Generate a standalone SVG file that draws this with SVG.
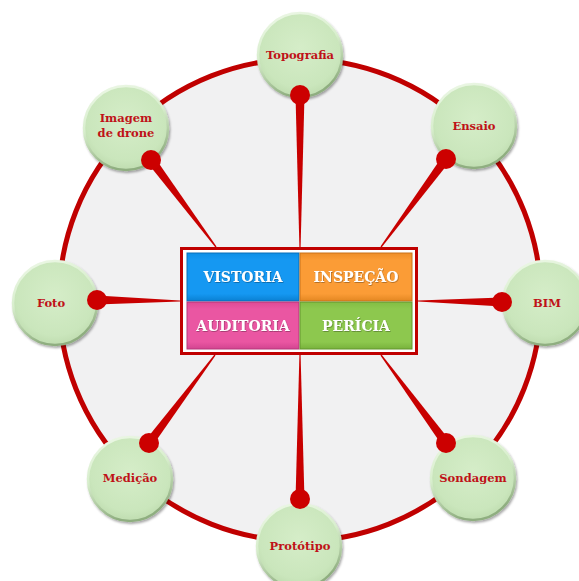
<svg xmlns="http://www.w3.org/2000/svg" width="579" height="581" viewBox="0 0 579 581">
  <defs>
    <radialGradient id="nodeGrad" cx="50%" cy="42%" r="55%">
      <stop offset="0%" stop-color="#d5edc8"/>
      <stop offset="85%" stop-color="#cae6bc"/>
      <stop offset="100%" stop-color="#c2dfb3"/>
    </radialGradient>
    <linearGradient id="rimGrad" x1="0" y1="0" x2="0.3" y2="1">
      <stop offset="0" stop-color="#eef8e8"/>
      <stop offset="0.5" stop-color="#d8eecd"/>
      <stop offset="1" stop-color="#8fae80"/>
    </linearGradient>
    <filter id="shadow" x="-20%" y="-20%" width="150%" height="150%">
      <feDropShadow dx="1.2" dy="1.8" stdDeviation="1.3" flood-color="#000" flood-opacity="0.35"/>
    </filter>
    <filter id="txtShadow" x="-10%" y="-30%" width="130%" height="170%">
      <feDropShadow dx="0.6" dy="0.8" stdDeviation="0.5" flood-color="#000" flood-opacity="0.35"/>
    </filter>
    <linearGradient id="gBlue" x1="0" y1="0" x2="0" y2="1">
      <stop offset="0" stop-color="#0b8fe8"/><stop offset="0.15" stop-color="#1598f2"/><stop offset="0.85" stop-color="#1598f2"/><stop offset="1" stop-color="#0a80d2"/>
    </linearGradient>
    <linearGradient id="gOrange" x1="0" y1="0" x2="0" y2="1">
      <stop offset="0" stop-color="#ef8e28"/><stop offset="0.15" stop-color="#fb9c36"/><stop offset="0.85" stop-color="#fb9c36"/><stop offset="1" stop-color="#e38722"/>
    </linearGradient>
    <linearGradient id="gPink" x1="0" y1="0" x2="0" y2="1">
      <stop offset="0" stop-color="#de4a95"/><stop offset="0.15" stop-color="#ea56a2"/><stop offset="0.85" stop-color="#ea56a2"/><stop offset="1" stop-color="#d24490"/>
    </linearGradient>
    <linearGradient id="gGreen" x1="0" y1="0" x2="0" y2="1">
      <stop offset="0" stop-color="#82bd44"/><stop offset="0.15" stop-color="#8dc84e"/><stop offset="0.85" stop-color="#8dc84e"/><stop offset="1" stop-color="#78b23c"/>
    </linearGradient>
  </defs>
  <style>
    .node circle.body { fill: url(#nodeGrad); stroke: url(#rimGrad); stroke-width: 2.5; filter: url(#shadow); }
    .lbl { font-family: "DejaVu Serif", "Liberation Serif", serif; font-weight: bold; font-size: 11.5px; fill: #bf1218; text-anchor: middle; }
    .dot { fill: #cc0000; }
    .spoke { fill: #c80000; }
    .cell { stroke-width: 1; }
    .ctext { font-family: "DejaVu Serif", "Liberation Serif", serif; font-weight: bold; font-size: 14px; fill: #ffffff; text-anchor: middle; filter: url(#txtShadow); }
  </style>

  <rect width="579" height="581" fill="#ffffff"/>

  <g id="ring">
    <circle cx="300" cy="300" r="241" fill="#f1f1f2" stroke="#c00000" stroke-width="5"/>
  </g>

  <g id="connectors">
    <polygon class="spoke" points="295.5,95 304.5,95 300.6,247 299.4,247"/>
    <polygon class="spoke" points="442.4,156.3 449.6,161.7 381.5,247.4 380.5,246.6"/>
    <polygon class="spoke" points="502,297.5 502,306.5 418,301.6 418,300.4"/>
    <polygon class="spoke" points="449.6,440.3 442.4,445.7 380.5,355.4 381.5,354.6"/>
    <polygon class="spoke" points="295.5,500 304.5,500 300.6,355 299.4,355"/>
    <polygon class="spoke" points="152.6,445.7 145.4,440.3 214.5,354.6 215.5,355.4"/>
    <polygon class="spoke" points="97,295.5 97,304.5 180,301.6 180,300.4"/>
    <polygon class="spoke" points="147.4,162.7 154.6,157.3 216.5,246.6 215.5,247.4"/>
  </g>

  <g id="center-box">
    <rect x="181.5" y="248.5" width="235" height="105" fill="#ffffff" stroke="#c00000" stroke-width="3"/>
    <g id="vistoria">
      <rect class="cell" x="187" y="253" width="112" height="48" fill="url(#gBlue)" stroke="#0a6fb8"/>
      <text class="ctext" x="243" y="282">VISTORIA</text>
    </g>
    <g id="inspecao">
      <rect class="cell" x="300" y="253" width="112" height="48" fill="url(#gOrange)" stroke="#c9731a"/>
      <text class="ctext" x="356" y="282">INSPEÇÃO</text>
    </g>
    <g id="auditoria">
      <rect class="cell" x="187" y="302" width="112" height="47" fill="url(#gPink)" stroke="#b8367a"/>
      <text class="ctext" x="243" y="331">AUDITORIA</text>
    </g>
    <g id="pericia">
      <rect class="cell" x="300" y="302" width="112" height="47" fill="url(#gGreen)" stroke="#64962e"/>
      <text class="ctext" x="356" y="331">PERÍCIA</text>
    </g>
  </g>

  <g id="node-topografia" class="node">
    <circle class="body" cx="300" cy="55" r="42"/>
    <text class="lbl" x="300" y="59">Topografia</text>
    <circle class="dot" cx="300" cy="95" r="10"/>
  </g>
  <g id="node-ensaio" class="node">
    <circle class="body" cx="474" cy="126" r="42"/>
    <text class="lbl" x="474" y="130">Ensaio</text>
    <circle class="dot" cx="446" cy="159" r="10"/>
  </g>
  <g id="node-bim" class="node">
    <circle class="body" cx="545" cy="303" r="42"/>
    <text class="lbl" x="547" y="307">BIM</text>
    <circle class="dot" cx="502" cy="302" r="10"/>
  </g>
  <g id="node-sondagem" class="node">
    <circle class="body" cx="473" cy="478" r="42"/>
    <text class="lbl" x="473" y="482">Sondagem</text>
    <circle class="dot" cx="446" cy="443" r="10"/>
  </g>
  <g id="node-prototipo" class="node">
    <circle class="body" cx="299" cy="546" r="42"/>
    <text class="lbl" x="300" y="550">Protótipo</text>
    <circle class="dot" cx="300" cy="499" r="10"/>
  </g>
  <g id="node-medicao" class="node">
    <circle class="body" cx="130" cy="479" r="42"/>
    <text class="lbl" x="130" y="482">Medição</text>
    <circle class="dot" cx="149" cy="443" r="10"/>
  </g>
  <g id="node-foto" class="node">
    <circle class="body" cx="55" cy="303" r="42"/>
    <text class="lbl" x="51" y="307">Foto</text>
    <circle class="dot" cx="97" cy="300" r="10"/>
  </g>
  <g id="node-drone" class="node">
    <circle class="body" cx="126" cy="128" r="42"/>
    <text class="lbl" x="126" y="122">Imagem</text>
    <text class="lbl" x="126" y="137">de drone</text>
    <circle class="dot" cx="151" cy="160" r="10"/>
  </g>
</svg>
